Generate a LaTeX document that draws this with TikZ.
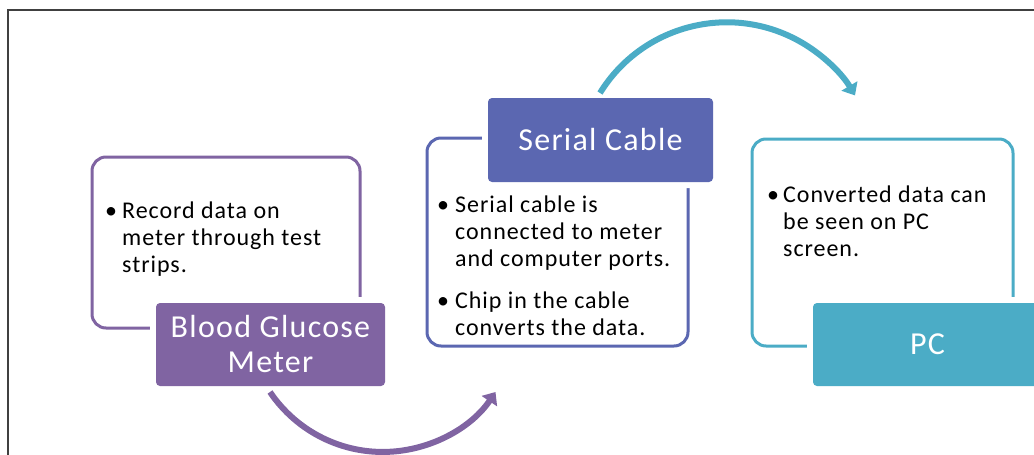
\documentclass[tikz,border=0pt]{standalone}
\usepackage{fontspec}
\setmainfont{Carlito}[LetterSpace=4]
\usetikzlibrary{arrows.meta}
\definecolor{cpurple}{HTML}{8064A2}
\definecolor{cblue}{HTML}{5B67B1}
\definecolor{cteal}{HTML}{4BACC6}
\definecolor{cframe}{HTML}{404040}
\begin{document}
\begin{tikzpicture}[x=1pt,y=-1pt,
  rimbox/.style={draw=#1, line width=3pt, rounded corners=14pt, inner sep=0pt},
  tagbox/.style={fill=#1, rounded corners=4pt,
    preaction={draw=white, line width=12pt, rounded corners=4pt},
    text=white, font=\fontsize{32}{35}\selectfont, align=center, inner sep=0pt},
  bodytext/.style={anchor=base west, inner sep=0pt, font=\fontsize{24}{27}\selectfont},
  flow/.style={draw=#1, line width=6pt, -{Triangle[width=18pt,length=11pt]}}
]
\useasboundingbox (0,0) rectangle (1034,455);
% frame
\coordinate (fr) at (1034,10);
\coordinate (fc) at (8,10);
\coordinate (fb) at (8,455);
\draw[cframe, line width=1.5pt] (fr) -- (fc) -- (fb);

% outline boxes
\node[rimbox=cpurple, minimum width=268pt, minimum height=171pt] (out1) at (226,242.5) {};
\node[rimbox=cblue, minimum width=261pt, minimum height=208pt] (out2) at (557.5,242) {};
\node[rimbox=cteal, minimum width=261pt, minimum height=207pt] (out3) at (882.5,242.5) {};

% label boxes
\node[tagbox=cpurple, minimum width=229pt, minimum height=83pt] (lab1) at (270.5,344.5) {Blood Glucose\\Meter};
\node[tagbox=cblue, minimum width=225pt, minimum height=84pt] (lab2) at (600.5,140) {Serial Cable};
\node[tagbox=cteal, minimum width=229pt, minimum height=83pt] (lab3) at (927.5,344.5) {PC};

% body texts
\node[bodytext] (t1) at (105,218) {\begin{tabular}[t]{@{}l@{}l@{}}\makebox[17pt][l]{\textbullet}&Record data on\\&meter through test\\&strips.\end{tabular}};
\node[bodytext] (t2) at (437,212) {\begin{tabular}[t]{@{}l@{}l@{}}\makebox[18pt][l]{\textbullet}&Serial cable is\\&connected to meter\\&and computer ports.\\[15pt]\makebox[18pt][l]{\textbullet}&Chip in the cable\\&converts the data.\end{tabular}};
\node[bodytext] (t3) at (767,202) {\begin{tabular}[t]{@{}l@{}l@{}}\makebox[16pt][l]{\textbullet}&Converted data can\\&be seen on PC\\&screen.\end{tabular}};

% arrows
\coordinate (a1s) at (270,392);
\draw[flow=cpurple] (a1s) arc[start angle=146, end angle=34, radius=136];
\coordinate (a2s) at (600,93);
\draw[flow=cteal] (a2s) arc[start angle=211.7, end angle=329.4, radius=149];
\end{tikzpicture}
\end{document}
